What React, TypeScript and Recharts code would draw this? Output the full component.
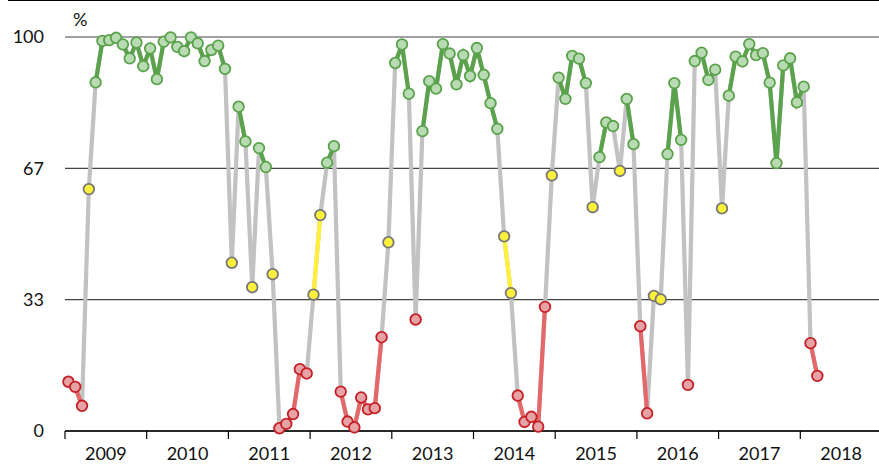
import { LineChart, Line, XAxis, YAxis, CartesianGrid } from 'recharts';

// monthly share, Jan 2009 .. Mar 2018
const values = [
  12.5, 11.2, 6.4, 61.4, 88.5, 99.0, 99.2, 99.8, 98.1, 94.6, 98.6, 92.6,
  97.1, 89.3, 98.8, 99.9, 97.5, 96.4, 99.9, 98.4, 93.9, 96.7, 97.8, 91.9,
  42.7, 82.3, 73.5, 36.5, 71.8, 67.0, 39.8, 0.7, 1.8, 4.3, 15.7, 14.6,
  34.6, 54.8, 68.1, 72.3, 10.0, 2.4, 0.9, 8.5, 5.5, 5.8, 23.8, 47.9,
  93.4, 98.1, 85.6, 28.3, 76.1, 88.8, 86.9, 98.2, 95.8, 88.0, 95.4, 90.1,
  97.2, 90.4, 83.2, 76.7, 49.4, 35.0, 9.0, 2.3, 3.6, 1.1, 31.5, 64.9,
  89.7, 84.3, 95.2, 94.5, 88.3, 56.8, 69.5, 78.3, 77.4, 66.0, 84.3, 72.8,
  26.6, 4.5, 34.3, 33.4, 70.3, 88.3, 73.9, 11.7, 93.9, 96.0, 89.1, 91.7,
  56.5, 85.1, 95.0, 93.8, 98.2, 95.4, 95.9, 88.4, 68.0, 92.8, 94.6, 83.4,
  87.4, 22.3, 14.0,
];

const years = [2009, 2010, 2011, 2012, 2013, 2014, 2015, 2016, 2017, 2018];
const yTicks = [0, 100 / 3, 200 / 3, 100];

const COLORS = {
  green: { line: '#5aa24b', fill: '#b8dbb3', stroke: '#5aa24b' },
  yellow: { line: '#fff03c', fill: '#fff03c', stroke: '#777777' },
  red: { line: '#e4676a', fill: '#e6a2a5', stroke: '#c51f25' },
};
const GRAY = '#c2c2c2';

type Cat = 'green' | 'yellow' | 'red';
const catOf = (v: number): Cat => (v < 100 / 3 ? 'red' : v < 200 / 3 ? 'yellow' : 'green');

const cats = values.map(catOf);
const keep = (i: number, c: Cat) =>
  cats[i] === c && (cats[i - 1] === c || cats[i + 1] === c) ? values[i] : null;

const data = values.map((v, i) => ({
  t: i + 0.5,
  v,
  green: keep(i, 'green'),
  yellow: keep(i, 'yellow'),
  red: keep(i, 'red'),
}));

const FONT = 'Lato, "Open Sans", sans-serif';
const PLOT_W = 817;

const YearTick = (props: any) => {
  const { x, y, payload } = props;
  const i = Math.round(payload.value / 12);
  return (
    <g>
      <line x1={x} y1={y - 8} x2={x} y2={y} stroke="#000" strokeWidth={1.2} />
      {i < years.length && (
        <text x={x + PLOT_W / 20} y={y + 21} textAnchor="middle" fontSize={18} fontFamily={FONT} fill="#111">
          {years[i]}
        </text>
      )}
    </g>
  );
};

const Dot = (props: any) => {
  const { cx, cy, payload, index } = props;
  if (cx == null || cy == null) return null;
  const c = COLORS[catOf(payload.v)];
  return <circle key={index} cx={cx} cy={cy} r={5.3} fill={c.fill} stroke={c.stroke} strokeWidth={1.8} />;
};

export default function App() {
  return (
    <div style={{ position: 'absolute', left: 0, top: 0, width: 879, height: 464, overflow: 'hidden', background: '#fff' }}>
      <div style={{ position: 'absolute', left: 8, top: 0, right: 0, borderTop: '1.5px solid #000' }} />
      <div style={{ position: 'absolute', left: 73, top: 8, fontFamily: FONT, fontSize: 18, color: '#111' }}>%</div>
      <LineChart width={890} height={464} data={data} margin={{ top: 37, right: 8, left: 0, bottom: 0 }}>
        <CartesianGrid vertical={false} stroke="#444" strokeWidth={1.2} />
        <XAxis
          dataKey="t"
          type="number"
          domain={[0, 120]}
          ticks={[0, 12, 24, 36, 48, 60, 72, 84, 96, 108, 120]}
          tick={<YearTick />}
          tickLine={false}
          axisLine={{ stroke: '#000', strokeWidth: 1.5 }}
          height={33}
          interval={0}
        />
        <YAxis
          domain={[0, 100]}
          ticks={yTicks}
          tickFormatter={(v: number) => String(Math.round(v))}
          tickLine={false}
          axisLine={false}
          width={65}
          tickMargin={15}
          tick={{ fontSize: 18, fontFamily: FONT, fill: '#111' }}
        />
        <Line dataKey="v" stroke={GRAY} strokeWidth={4.2} dot={false} isAnimationActive={false} />
        <Line dataKey="green" stroke={COLORS.green.line} strokeWidth={4.2} dot={false} isAnimationActive={false} />
        <Line dataKey="yellow" stroke={COLORS.yellow.line} strokeWidth={4.2} dot={false} isAnimationActive={false} />
        <Line dataKey="red" stroke={COLORS.red.line} strokeWidth={4.2} dot={false} isAnimationActive={false} />
        <Line dataKey="v" stroke="none" dot={<Dot />} activeDot={false} isAnimationActive={false} />
      </LineChart>
    </div>
  );
}
